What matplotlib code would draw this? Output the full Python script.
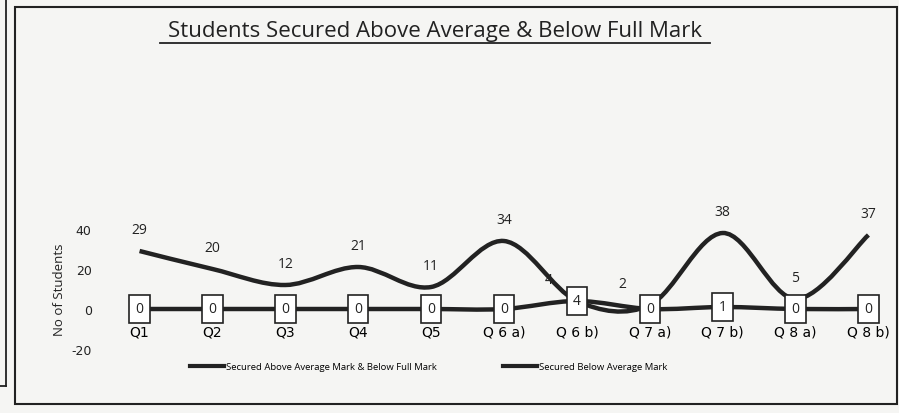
import numpy as np
import matplotlib.pyplot as plt
from matplotlib.path import Path
from matplotlib.patches import PathPatch, Rectangle
from matplotlib.lines import Line2D

# Data
questions = ['Q1', 'Q2', 'Q3', 'Q4', 'Q5', 'Q 6 a)', 'Q 6 b)', 'Q 7 a)', 'Q 7 b)', 'Q 8 a)', 'Q 8 b)']
above_avg = [0, 0, 0, 0, 0, 0, 4, 0, 1, 0, 0]
below_avg = [29, 20, 12, 21, 11, 34, 4, 2, 38, 5, 37]
series_names = ['Secured Above Average Mark & Below Full Mark', 'Secured Below Average Mark']

ink = '#222222'
bg = '#f5f5f3'
plt.rcParams['axes.unicode_minus'] = False


def smooth_path(xs, ys):
    # Bezier smoothing like a spreadsheet "smoothed line"
    pts = np.column_stack([xs, ys]).astype(float)
    n = len(pts)
    verts = [pts[0]]
    codes = [Path.MOVETO]
    for i in range(n - 1):
        p0 = pts[i - 1] if i > 0 else pts[i]
        p1 = pts[i]
        p2 = pts[i + 1]
        p3 = pts[i + 2] if i + 2 < n else pts[i + 1]
        c1 = p1 + (p2 - p0) / 6.0
        c2 = p2 - (p3 - p1) / 6.0
        verts += [c1, c2, p2]
        codes += [Path.CURVE4] * 3
    return Path(verts, codes)


fig = plt.figure(figsize=(8.99, 4.14), dpi=100)
fig.patch.set_facecolor(bg)
ax = fig.add_axes([125 / 899, 1 - 350 / 414, 758 / 899, 120 / 414])
ax.set_facecolor('none')

x = np.arange(len(questions))

ax.add_patch(PathPatch(smooth_path(x, below_avg), fill=False, lw=3.2, color=ink, capstyle='butt', zorder=3))
ax.add_patch(PathPatch(smooth_path(x, above_avg), fill=False, lw=3.2, color=ink, capstyle='butt', zorder=2))

# labels for the upper series
shift = {6: -20, 7: -20}
for i, v in enumerate(below_avg):
    ax.annotate(str(v), (x[i], v), xytext=(shift.get(i, 0), 10), textcoords='offset points',
                ha='center', va='bottom', fontsize=10, color=ink, family='Open Sans')

# boxed labels for the flat series
for i, v in enumerate(above_avg):
    ax.text(x[i], v, str(v), ha='center', va='center', fontsize=10, color=ink, family='Open Sans',
            zorder=5, bbox=dict(boxstyle='square,pad=0.45', fc='white', ec=ink, lw=1.2))

ax.set_xlim(-0.2, 10.2)
ax.set_ylim(-20, 40)
ax.set_yticks([-20, 0, 20, 40])
ax.set_xticks(x)
ax.set_xticklabels(questions, fontsize=9, color=ink, family='Open Sans')
for s in ['top', 'right', 'left', 'bottom']:
    ax.spines[s].set_visible(False)
ax.spines['bottom'].set_position(('data', 0))
ax.tick_params(axis='x', length=0, pad=11)
ax.tick_params(axis='y', length=0, pad=24, labelsize=9, labelcolor=ink)
ax.set_ylabel('No of Students', fontsize=9.5, color=ink, family='Open Sans', labelpad=4)

# title with underline
fig.text(435 / 899, 1 - 32 / 414, 'Students Secured Above Average & Below Full Mark',
         ha='center', va='center', fontsize=16, color=ink, family='Open Sans')
fig.add_artist(Line2D([160 / 899, 710 / 899], [1 - 44 / 414, 1 - 44 / 414], color=ink, lw=1.3))

# legend
handles = [Line2D([], [], color=ink, lw=3) for _ in series_names]
fig.legend(handles, series_names, loc='center', bbox_to_anchor=(429 / 899, 1 - 368 / 414), ncol=2,
           frameon=False, handlelength=3.6, handletextpad=0.2, columnspacing=7,
           prop={'family': 'Open Sans', 'size': 6.8})

# chart frame
fig.add_artist(Rectangle((15 / 899, 1 - 405 / 414), 882 / 899, 397 / 414, transform=fig.transFigure,
                         fill=False, ec=ink, lw=1.5))
fig.add_artist(Line2D([6 / 899, 6 / 899], [1 - 387 / 414, 1.0], color=ink, lw=1.3))
fig.add_artist(Line2D([0, 6 / 899], [1 - 387 / 414, 1 - 387 / 414], color=ink, lw=1.3))

fig.savefig('out.png', dpi=100, facecolor=bg)
